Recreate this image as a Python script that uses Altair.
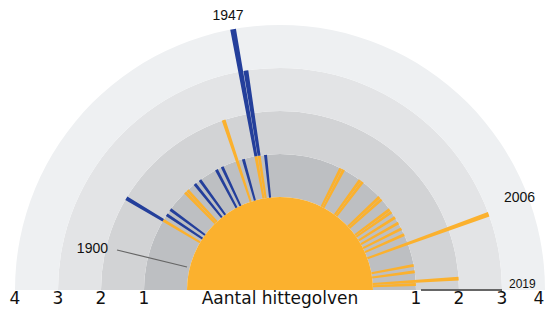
import math
import altair as alt
import pandas as pd

# ---- data ----
years   = [1911, 1913, 1915, 1922, 1923, 1926, 1928, 1934, 1936, 1941, 1943, 1947, 1948, 1950,
           1974, 1975, 1981, 1982, 1989, 1990, 1994, 1995, 1997, 1999, 2001, 2003, 2006,
           2013, 2015, 2018, 2019]
kept    = [1, 0, 0, 1, 1, 0, 0, 0, 0, 2, 0, 1, 1, 0,
           1, 1, 1, 1, 1, 1, 1, 1, 1, 1, 1, 1, 3,
           1, 1, 2, 1]
removed = [1, 1, 1, 0, 0, 1, 1, 1, 1, 0, 1, 3, 2, 1,
           0, 0, 0, 0, 0, 0, 0, 0, 0, 0, 0, 0, 0,
           0, 0, 0, 0]
ring_values = [1, 2, 3, 4]
ring_labels = ["1", "2", "3", "4"]
band_names = ["b1", "b2", "b3", "b4"]

# ---- styles / layout ----
ORANGE = "#fbb12e"
BLUE = "#243f9b"
BAND_COLORS = ["#bdbfc2", "#d2d3d5", "#e3e4e6", "#eef0f2"]
CX, CY = 272, 282
TH_L, TH_R = 1.5 * math.pi, 2.5 * math.pi
FONT = "DejaVu Sans"
HALF = 0.46

rows = []
for y, k, r in zip(years, kept, removed):
    if k > 0:
        rows.append({"year": y, "r0": 0, "r1": k, "kind": "kept"})
    if r > 0:
        rows.append({"year": y, "r0": k, "r1": k + r, "kind": "removed"})
bars_df = pd.DataFrame(rows)
bands_df = pd.DataFrame({"lo": [v - 1 for v in ring_values], "hi": ring_values, "kind": band_names})
labels_df = pd.DataFrame({"v": ring_values, "t": ring_labels})

tscale = alt.Scale(type="linear", domain=[1900, 2020],
                   range=[math.radians(285.88), math.radians(449.08)], zero=False, nice=False)
rscale = alt.Scale(type="linear", domain=[0, 4], range=[93, 265], zero=False, nice=False)
cscale = alt.Scale(domain=band_names + ["kept", "removed"], range=BAND_COLORS + [ORANGE, BLUE])

cx = alt.value(CX)
cy = alt.value(CY)

bands = alt.Chart(bands_df).mark_arc(theta=TH_L, theta2=TH_R).encode(
    radius=alt.Radius("hi:Q", scale=rscale, stack=False),
    radius2=alt.Radius2("lo:Q"),
    color=alt.Color("kind:N", scale=cscale, legend=None),
    x=cx, y=cy,
)

core = alt.Chart(pd.DataFrame({"z": [0]})).mark_arc(
    theta=TH_L, theta2=TH_R, fill=ORANGE, color=ORANGE
).encode(
    radius=alt.Radius("z:Q", scale=rscale, stack=False),
    radius2=alt.value(0),
    x=cx, y=cy,
)

bars = alt.Chart(bars_df).transform_calculate(
    t0=f"datum.year - {HALF}", t1=f"datum.year + {HALF}"
).mark_arc().encode(
    theta=alt.Theta("t0:Q", scale=tscale, stack=False),
    theta2=alt.Theta2("t1:Q"),
    radius=alt.Radius("r1:Q", scale=rscale, stack=False),
    radius2=alt.Radius2("r0:Q"),
    color=alt.Color("kind:N", scale=cscale, legend=None),
    x=cx, y=cy,
)

def ring_text(theta, flt, dx=0):
    return alt.Chart(labels_df).transform_filter(flt).mark_text(
        theta=theta, dy=9, dx=dx, fontSize=17, font=FONT, color="#111",
        baseline="middle", align="center"
    ).encode(
        radius=alt.Radius("v:Q", scale=rscale, stack=False),
        text="t:N",
        x=cx, y=cy,
    )

def note(text, x, y, align, size=14):
    return alt.Chart(pd.DataFrame({"t": [text]})).mark_text(
        fontSize=size, font="Liberation Sans", color="#111", align=align, baseline="middle"
    ).encode(text="t:N", x=alt.value(x), y=alt.value(y))

def leader(x1, y1, x2, y2, width):
    return alt.Chart(pd.DataFrame({"d": [0]})).mark_rule(color="#666666", strokeWidth=width).encode(
        x=alt.value(x1), y=alt.value(y1), x2=alt.value(x2), y2=alt.value(y2)
    )

title = alt.Chart(pd.DataFrame({"t": ["Aantal hittegolven"]})).mark_text(
    fontSize=17, font=FONT, color="#111", align="center", baseline="middle"
).encode(text="t:N", x=alt.value(CX), y=alt.value(CY + 9))

chart = alt.layer(
    bands, core, bars,
    ring_text(TH_L, "datum.v > 0"),
    ring_text(TH_R, "datum.v < 4"),
    ring_text(TH_R, "datum.v == 4", dx=-6),
    title,
    leader(109, 242, 179, 259, 1.2), leader(413, 282, 494, 282, 1.8),
    note("1947", 220, 8, "center"), note("2006", 496, 190, "left"),
    note("1900", 100, 241, "right"), note("2019", 501, 276, "left", 12),
).properties(
    width=537, height=300, padding=0,
    autosize=alt.AutoSizeParams(type="none"),
).configure_view(stroke=None)

chart.save("out.html", embed_options={"renderer": "svg", "actions": False})
